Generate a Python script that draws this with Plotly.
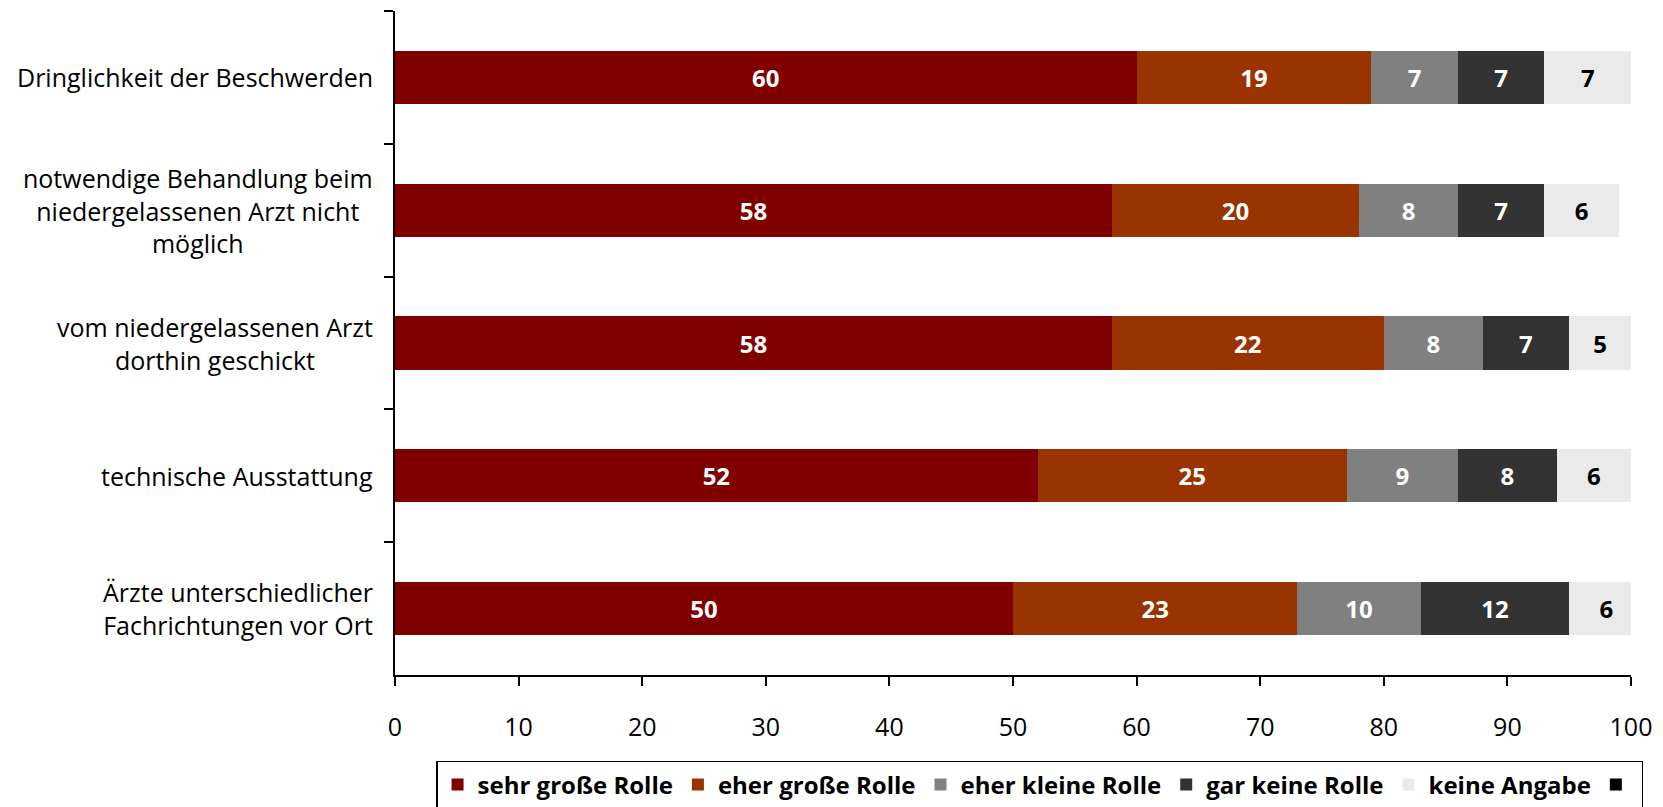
import plotly.graph_objects as go

categories = [
    "Dringlichkeit der Beschwerden",
    "notwendige Behandlung beim<br>niedergelassenen Arzt nicht<br>möglich",
    "vom niedergelassenen Arzt<br>dorthin geschickt",
    "technische Ausstattung",
    "Ärzte unterschiedlicher<br>Fachrichtungen vor Ort",
]
series_names = ["sehr große Rolle", "eher große Rolle", "eher kleine Rolle", "gar keine Rolle", "keine Angabe"]
sehr_gross = [60, 58, 58, 52, 50]
eher_gross = [19, 20, 22, 25, 23]
eher_klein = [7, 8, 8, 9, 10]
gar_keine = [7, 7, 7, 8, 12]
keine_angabe = [7, 6, 5, 6, 6]
x_ticks = [0, 10, 20, 30, 40, 50, 60, 70, 80, 90, 100]

values = [sehr_gross, eher_gross, eher_klein, gar_keine, keine_angabe]
colors = ["#800000", "#993300", "#808080", "#333333", "#EAEAEA"]
text_colors = ["white", "white", "white", "white", "black"]

FONT = "Open Sans"
fig = go.Figure()
for name, vals, col, tcol in zip(series_names, values, colors, text_colors):
    fig.add_trace(go.Bar(
        y=categories, x=vals, name=name, orientation="h",
        marker=dict(color=col, line=dict(width=0)),
        text=vals, texttemplate="%{text}", textposition="inside",
        insidetextanchor="middle", textangle=0,
        textfont=dict(family=FONT, size=24, color=tcol, weight="bold"),
        hoverinfo="skip",
    ))
# extra black legend swatch without label (as in the reference legend)
fig.add_trace(go.Bar(
    y=[categories[0]], x=[0], name="", orientation="h",
    marker=dict(color="black", line=dict(width=0)),
    showlegend=True, hoverinfo="skip",
))

for cat in categories:
    fig.add_annotation(
        x=0, xref="paper", y=cat, yref="y", xanchor="right", yanchor="middle",
        xshift=-20, text=cat, showarrow=False, align="center",
        font=dict(family=FONT, size=25, color="black"),
    )

fig.update_layout(
    barmode="stack",
    bargap=0.6,
    width=1655, height=799,
    margin=dict(l=387, r=32, t=3, b=132, autoexpand=False),
    paper_bgcolor="white", plot_bgcolor="white",
    font=dict(family=FONT, size=25, color="black"),
    uniformtext=dict(minsize=24, mode="show"),
    legend=dict(
        orientation="h", x=0.5215, xanchor="center",
        yref="container", y=0.0576, yanchor="top",
        bordercolor="black", borderwidth=1.5, bgcolor="white",
        font=dict(family=FONT, size=24, color="black", weight="bold"),
        traceorder="normal", itemwidth=30,
    ),
    xaxis=dict(
        range=[0, 100], tickvals=x_ticks, ticktext=[str(t) for t in x_ticks],
        ticks="outside", ticklen=9, tickwidth=1.5, tickcolor="black",
        showline=True, linecolor="black", linewidth=2,
        showgrid=False, zeroline=False, ticklabelstandoff=20,
        tickfont=dict(family=FONT, size=25, color="black"),
    ),
    yaxis=dict(
        autorange="reversed", showticklabels=False,
        ticks="outside", ticklen=9, tickwidth=1.5, tickcolor="black", tickson="boundaries",
        showline=True, linecolor="black", linewidth=2, showgrid=False, zeroline=False,
    ),
)

fig.write_html("out.html")
